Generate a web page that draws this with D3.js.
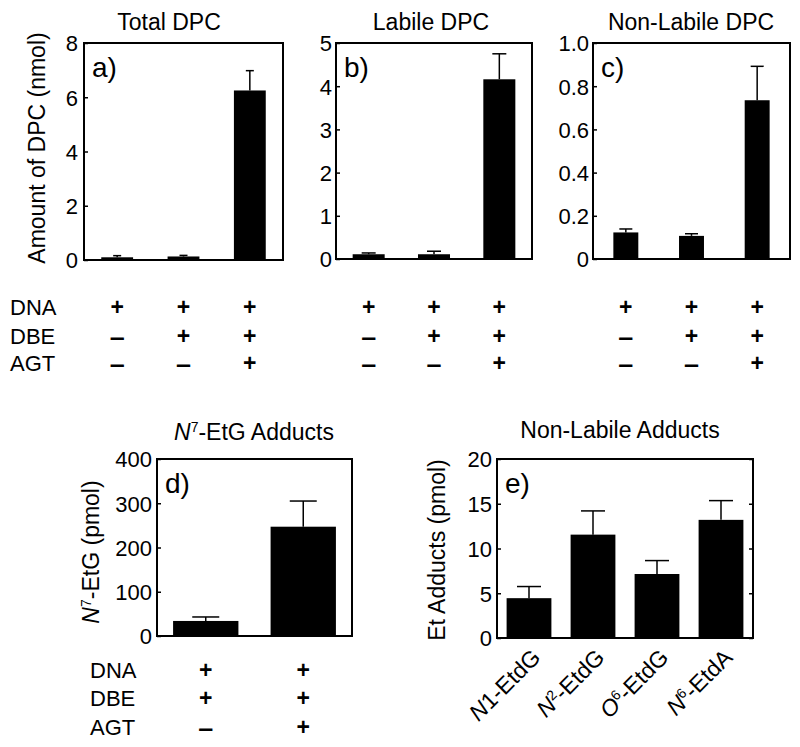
<!DOCTYPE html>
<html><head><meta charset="utf-8">
<script src="https://cdn.jsdelivr.net/npm/d3@7"></script>
<style>
body{margin:0;background:#fff;}
text{font-family:"Liberation Sans",Arial,Helvetica,sans-serif;fill:#000;}
</style></head>
<body><svg id="chart" width="800" height="747"></svg>
<script>
// ---------- data ----------
const dpcGroups = ["g1","g2","g3"];
const totalDPC = [0.10, 0.13, 6.25];
const totalDPCErr = [0.06, 0.04, 0.73];
const labileDPC = [0.11, 0.11, 4.16];
const labileDPCErr = [0.03, 0.07, 0.59];
const nonLabileDPC = [0.123, 0.107, 0.735];
const nonLabileDPCErr = [0.016, 0.010, 0.157];
const totalTicks = [0, 2, 4, 6, 8];
const labileTicks = [0, 1, 2, 3, 4, 5];
const nonLabileTicks = [0, 0.2, 0.4, 0.6, 0.8, 1.0];

const n7Groups = ["g1","g2"];
const n7EtG = [34, 247];
const n7EtGErr = [9, 58];
const n7Ticks = [0, 100, 200, 300, 400];

const adductNames = ["N1-EtdG","N2-EtdG","O6-EtdG","N6-EtdA"];
const adductLabelParts = [
  [["N","i"],["1-EtdG",""]],
  [["N","i"],["2","sup"],["-EtdG",""]],
  [["O","i"],["6","sup"],["-EtdG",""]],
  [["N","i"],["6","sup"],["-EtdA",""]]
];
const etAdducts = [4.45, 11.55, 7.15, 13.2];
const etAdductsErr = [1.3, 2.65, 1.5, 2.15];
const etTicks = [0, 5, 10, 15, 20];

const tableRows = ["DNA","DBE","AGT"];
const dpcConditions = [["+","–","–"],["+","+","–"],["+","+","+"]];
const n7Conditions = [["+","+","–"],["+","+","+"]];

// ---------- drawing ----------
const svg = d3.select("#chart");
const intFmt = d => String(d);
const decFmt = d => d === 0 ? "0" : d3.format(".1f")(d);

function panel(cfg){
  const g = svg.append("g");
  const x = d3.scaleBand().domain(cfg.cats).range([cfg.x, cfg.x + cfg.w])
    .paddingInner(cfg.pad).paddingOuter(cfg.pad/2);
  const y = d3.scaleLinear().domain([cfg.ticks[0], cfg.ticks[cfg.ticks.length-1]])
    .range([cfg.y + cfg.h, cfg.y]);
  g.selectAll("rect.bar").data(cfg.values).enter().append("rect")
    .attr("x", (d,i) => x(cfg.cats[i]))
    .attr("width", x.bandwidth())
    .attr("y", d => y(d))
    .attr("height", d => y(0) - y(d))
    .attr("fill", "#000");
  cfg.values.forEach((v,i) => {
    const cx = x(cfg.cats[i]) + x.bandwidth()/2;
    const top = y(v + cfg.err[i]);
    g.append("line").attr("x1", cx).attr("x2", cx).attr("y1", y(v)).attr("y2", top)
      .attr("stroke","#000").attr("stroke-width",1.5);
    g.append("line").attr("x1", cx - cfg.cap/2).attr("x2", cx + cfg.cap/2)
      .attr("y1", top).attr("y2", top).attr("stroke","#000").attr("stroke-width",1.5);
  });
  const ax = g.append("g").attr("transform", `translate(${cfg.x},0)`)
    .call(d3.axisLeft(y).tickValues(cfg.ticks).tickFormat(cfg.fmt)
      .tickSizeInner(-4).tickSizeOuter(0).tickPadding(cfg.tickPad));
  ax.select(".domain").remove();
  ax.selectAll("line").attr("stroke-width",1.5);
  ax.selectAll("text").style("font-size", "22px").attr("dy","0.36em");
  if (cfg.rightTicks){
    const ar = g.append("g").attr("transform", `translate(${cfg.x + cfg.w},0)`)
      .call(d3.axisRight(y).tickValues(cfg.ticks).tickFormat("")
        .tickSizeInner(-4).tickSizeOuter(0));
    ar.select(".domain").remove();
    ar.selectAll("line").attr("stroke-width",1.5);
  }
  g.append("rect").attr("x", cfg.x).attr("y", cfg.y).attr("width", cfg.w).attr("height", cfg.h)
    .attr("fill","none").attr("stroke","#000").attr("stroke-width",2);
  g.append("text").attr("x", cfg.x + 8).attr("y", cfg.y + 34)
    .style("font-size","28px").text(cfg.letter);
  return {x, y, g};
}

function tableBlock(xScale, cats, conds, labelX, rowYs){
  tableRows.forEach((r, ri) => {
    if (labelX !== null) {
      svg.append("text").attr("x", labelX).attr("y", rowYs[ri]).attr("dy","0.36em")
        .style("font-size", "22px").text(r);
    }
    cats.forEach((c, ci) => {
      const sym = conds[ci][ri];
      const isDash = sym !== "+";
      const t = svg.append("text").attr("x", xScale(c) + xScale.bandwidth()/2)
        .attr("y", rowYs[ri] + (isDash ? 1 : 0))
        .attr("dy","0.36em").attr("text-anchor","middle")
        .style("font-size", "23px").style("font-weight","bold").text(sym);
      if (isDash) t.attr("textLength", 15).attr("lengthAdjust", "spacingAndGlyphs");
    });
  });
}

const pa = panel({cats: dpcGroups, values: totalDPC, err: totalDPCErr, ticks: totalTicks, fmt: intFmt,
  x: 84, y: 43, w: 199, h: 217, pad: 0.52, cap: 8, letter: "a)", tickPad: 6});
const pb = panel({cats: dpcGroups, values: labileDPC, err: labileDPCErr, ticks: labileTicks, fmt: intFmt,
  x: 336, y: 43, w: 196, h: 216, pad: 0.51, cap: 14, letter: "b)", tickPad: 4});
const pc = panel({cats: dpcGroups, values: nonLabileDPC, err: nonLabileDPCErr, ticks: nonLabileTicks, fmt: decFmt,
  x: 593, y: 43, w: 197, h: 216, pad: 0.62, cap: 13, letter: "c)", tickPad: 4});
const pd = panel({cats: n7Groups, values: n7EtG, err: n7EtGErr, ticks: n7Ticks, fmt: intFmt,
  x: 157, y: 459, w: 195, h: 177, pad: 0.33, cap: 27, letter: "d)", tickPad: 5});
const pe = panel({cats: adductNames, values: etAdducts, err: etAdductsErr, ticks: etTicks, fmt: intFmt,
  x: 497, y: 459, w: 256, h: 179, pad: 0.30, cap: 24, letter: "e)", tickPad: 5, rightTicks: true});

function richText(t, parts, size){
  parts.forEach(p => {
    const s = t.append("tspan").text(p[0]);
    if (p[1] === "i") s.style("font-style","italic");
    if (p[1] === "sup") s.attr("baseline-shift","super").style("font-size", Math.round(size*0.6)+"px");
  });
}
function title(x, y, parts){
  const t = svg.append("text").attr("x", x).attr("y", y).attr("dy","0.36em")
    .attr("text-anchor","middle").style("font-size", "23px");
  richText(t, parts, 23);
}
title(169, 22, [["Total DPC",""]]);
title(431, 22, [["Labile DPC",""]]);
title(691, 22, [["Non-Labile DPC",""]]);
title(254, 432, [["N","i"],["7","sup"],["-EtG Adducts",""]]);
title(620, 430, [["Non-Labile Adducts",""]]);

function ylabel(x, y, parts){
  const t = svg.append("text").attr("transform", `translate(${x},${y}) rotate(-90)`)
    .attr("dy","0.36em").attr("text-anchor","middle").style("font-size", "23px");
  richText(t, parts, 23);
}
ylabel(37, 148, [["Amount of DPC (nmol)",""]]);
ylabel(91, 552, [["N","i"],["7","sup"],["-EtG (pmol)",""]]);
ylabel(437, 550, [["Et Adducts (pmol)",""]]);

const rowsABC = [307, 336, 363];
tableBlock(pa.x, dpcGroups, dpcConditions, 10, rowsABC);
tableBlock(pb.x, dpcGroups, dpcConditions, null, rowsABC);
tableBlock(pc.x, dpcGroups, dpcConditions, null, rowsABC);
tableBlock(pd.x, n7Groups, n7Conditions, 90, [670, 698, 727]);

adductNames.forEach((n, i) => {
  const cx = pe.x(n) + pe.x.bandwidth()/2;
  const t = svg.append("text")
    .attr("transform", `translate(${cx + 7},${459 + 179 + 15}) rotate(-45)`)
    .attr("text-anchor","end").attr("dy","0.36em").style("font-size","23px");
  richText(t, adductLabelParts[i], 23);
});
</script></body></html>
